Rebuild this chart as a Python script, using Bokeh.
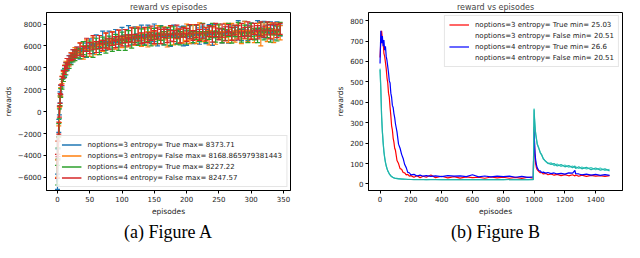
from bokeh.plotting import figure
from bokeh.layouts import row
from bokeh.models import (ColumnDataSource, Whisker, TeeHead, Legend, LegendItem,
                          Title, FixedTicker, CustomJSTickFormatter, Range1d)
from bokeh.embed import file_html
from bokeh.resources import INLINE

# ---------------- Figure A data ----------------
xa = [0, 1, 2, 3, 4, 5, 7, 9, 11, 13, 15, 18, 21, 24, 27, 30,
      35, 40, 45, 50, 55, 60, 65, 70, 75, 80, 85, 90, 95, 100,
      105, 110, 115, 120, 125, 130, 135, 140, 145, 150,
      155, 160, 165, 170, 175, 180, 185, 190, 195, 200,
      205, 210, 215, 220, 225, 230, 235, 240, 245, 250,
      255, 260, 265, 270, 275, 280, 285, 290, 295, 300,
      305, 310, 315, 320, 325, 330, 335, 340, 345]

ya1 = [-6400, -3900, -1300, 100, 1300, 2000, 2600, 3400, 3600, 4100, 4200, 4700, 4800, 5200, 5200, 5500,
       5300, 6000, 5600, 6200, 5700, 6400, 5900, 6600, 6000, 6700, 6200, 6900, 6300, 7000,
       6400, 7100, 6500, 7150, 6600, 7200, 6500, 7250, 6700, 7200,
       6600, 7350, 6800, 7250, 6700, 7400, 6800, 7300, 6900, 6700,
       7350, 6800, 7450, 6900, 7300, 6850, 7500, 6900, 7350, 7100,
       6900, 7550, 7000, 7400, 7100, 7500, 7000, 7600, 7200, 7500,
       7100, 7650, 7200, 7500, 7300, 7700, 7200, 7600, 7400]
ya2 = [-5200, -3300, -1800, -300, 900, 1800, 2900, 3200, 3900, 4200, 4400, 4500, 5000, 5000, 5400, 5300,
       5800, 5400, 6100, 5700, 6300, 5800, 6500, 6000, 6500, 6100, 6700, 6200, 6800, 6300,
       6900, 6400, 7000, 6500, 7100, 6550, 7050, 6600, 7150, 6700,
       7200, 6700, 7150, 6600, 7250, 6750, 7100, 6900, 6750, 7250,
       6800, 7300, 6700, 7350, 6850, 7100, 6750, 7350, 6900, 7300,
       6800, 7400, 6900, 7300, 6850, 7350, 6800, 7450, 6900, 7350,
       6950, 7450, 6800, 7500, 7050, 7400, 6900, 7600, 7200]
ya3 = [-5800, -3800, -1700, -200, 1000, 1700, 2500, 3100, 3500, 3800, 4100, 4400, 4700, 4900, 5100, 5300,
       5300, 5800, 5500, 6000, 5600, 6200, 5800, 6350, 6000, 6400, 6100, 6600, 6250, 6750,
       6300, 6900, 6400, 6950, 6500, 6950, 6550, 7050, 6600, 7100,
       6650, 7150, 6700, 7200, 6750, 7250, 6800, 6700, 7300, 6800,
       7300, 6800, 7250, 6850, 7350, 6800, 7200, 7400, 6850, 7400,
       6950, 7000, 7450, 6950, 7350, 7500, 6950, 7400, 7000, 7450,
       7050, 6950, 7550, 7050, 7450, 6950, 7500, 7100, 7550]
ya4 = [-5000, -3400, -1500, 0, 1200, 2000, 2800, 3400, 3800, 4100, 4400, 4700, 5000, 5200, 5300, 5500,
       5700, 5500, 6100, 5800, 6300, 5900, 6350, 6050, 6500, 6200, 6650, 6350, 6800, 6450,
       6900, 6500, 7000, 6600, 7050, 6700, 7000, 6750, 7150, 6800,
       7150, 6850, 7200, 6900, 7150, 6900, 7300, 6900, 7250, 7000,
       7300, 6950, 7350, 7000, 7350, 7050, 7350, 7050, 7450, 7050,
       7400, 7100, 7450, 7100, 7450, 7200, 7450, 7200, 7550, 7200,
       7550, 7250, 7550, 7300, 7600, 7300, 7600, 7350, 7550]

ea1 = [700, 500, 600, 400, 500, 400, 350, 400, 350, 400, 350, 400, 350, 450, 350, 400,
       500, 400, 650, 450, 400, 600, 500, 750, 400, 650, 500, 600, 400, 700,
       500, 750, 400, 600, 500, 700, 400, 650, 500, 800,
       600, 500, 700, 400, 750, 500, 600, 450, 900, 650,
       500, 600, 450, 750, 500, 650, 450, 850, 600, 500,
       650, 450, 750, 500, 600, 800, 500, 650, 700, 600,
       500, 650, 450, 750, 600, 500, 650, 600, 500]
ea2 = [800, 600, 500, 700, 450, 400, 350, 450, 350, 400, 450, 350, 400, 350, 450, 400,
       500, 600, 450, 650, 500, 600, 450, 500, 650, 450, 600, 500, 650, 450,
       600, 500, 700, 450, 650, 600, 500, 700, 450, 600,
       650, 500, 600, 700, 500, 650, 450, 600, 500, 750,
       600, 650, 500, 750, 450, 600, 650, 500, 750, 600,
       500, 650, 600, 750, 500, 650, 600, 800, 500, 700,
       650, 600, 800, 500, 650, 700, 600, 500, 650]
ea3 = [900, 500, 600, 450, 450, 400, 450, 350, 400, 450, 350, 450, 400, 350, 450, 400,
       450, 600, 500, 450, 650, 500, 600, 450, 650, 500, 600, 450, 650, 500,
       700, 500, 600, 650, 450, 600, 500, 650, 600, 500,
       450, 650, 600, 500, 700, 500, 650, 600, 450, 650,
       600, 500, 650, 450, 700, 500, 600, 650, 500, 600,
       650, 500, 600, 700, 500, 650, 600, 500, 700, 600,
       500, 650, 600, 500, 700, 600, 500, 650, 600]
ea4 = [1100, 700, 550, 500, 450, 450, 400, 350, 400, 350, 450, 400, 350, 450, 350, 400,
       550, 450, 600, 500, 650, 500, 600, 450, 700, 500, 600, 500, 650, 450,
       600, 500, 650, 450, 600, 500, 700, 450, 650, 600,
       500, 650, 450, 600, 700, 500, 600, 650, 450, 600,
       650, 450, 600, 500, 650, 600, 500, 700, 600, 500,
       600, 650, 500, 600, 450, 650, 600, 500, 650, 600,
       500, 600, 650, 500, 600, 650, 500, 600, 500]

labels_a = ["noptions=3 entropy= True max= 8373.71",
            "noptions=3 entropy= False max= 8168.865979381443",
            "noptions=4 entropy= True max= 8227.22",
            "noptions=4 entropy= False max= 8247.57"]
colors_a = ["#1f77b4", "#ff7f0e", "#2ca02c", "#d62728"]
yticks_a = [-6000, -4000, -2000, 0, 2000, 4000, 6000, 8000]
xticks_a = [0, 50, 100, 150, 200, 250, 300, 350]

# ---------------- Figure B data ----------------
xb = [0, 5, 10, 15, 20, 25, 30, 35, 40, 45, 50, 55, 60, 65, 70, 75, 80, 85, 90, 95,
      100, 110, 120, 130, 140, 150, 160, 170, 180, 190, 200, 220, 240, 260, 280, 300,
      330, 360, 400, 440, 480, 520, 560, 600, 640, 680, 720, 760, 800, 840, 880, 920,
      960, 995, 1000, 1003, 1006, 1010, 1015, 1020, 1030, 1040, 1050, 1060, 1075, 1090,
      1110, 1130, 1150, 1175, 1200, 1225, 1250, 1265, 1270, 1290, 1310, 1340, 1370,
      1400, 1430, 1460, 1490]

yb1 = [620, 700, 750, 710, 695, 640, 625, 595, 565, 520, 495, 445, 425, 375, 335, 285, 265, 225, 205, 175,
       165, 115, 100, 75, 72, 56, 54, 44, 47, 38, 41, 33, 40, 31, 38, 33,
       44, 31, 38, 30, 36, 29, 35, 31, 33, 28, 34, 30, 33, 28, 32, 27,
       33, 29, 280, 190, 140, 100, 80, 70, 62, 55, 57, 49, 52, 45,
       49, 43, 47, 41, 46, 40, 45, 39, 44, 38, 43, 37, 42,
       38, 41, 37, 41]
yb2 = [565, 470, 330, 260, 200, 160, 130, 105, 90, 75, 65, 57, 50, 44, 40, 37, 34, 32, 30, 29,
       28, 27, 26, 25, 25, 24, 24, 23, 23, 23, 22, 22, 22, 22, 22, 21,
       22, 22, 21, 22, 21, 22, 21, 22, 21, 22, 21, 22, 21, 22, 21, 22,
       21, 22, 370, 320, 280, 250, 220, 200, 175, 155, 140, 125, 110, 100,
       104, 90, 98, 86, 93, 82, 88, 80, 84, 76, 83, 74, 80,
       70, 78, 66, 72]
yb3 = [590, 750, 690, 725, 675, 705, 655, 675, 625, 605, 575, 545, 505, 495, 445, 425, 385, 375, 345, 325,
       295, 255, 195, 175, 145, 125, 95, 80, 57, 55, 45, 47, 39, 43, 38, 41,
       37, 40, 36, 41, 38, 40, 36, 45, 35, 39, 35, 38, 36, 38, 33, 37,
       32, 35, 270, 200, 150, 120, 95, 80, 66, 64, 56, 58, 53, 56,
       51, 54, 49, 52, 48, 54, 53, 66, 50, 49, 45, 48, 43,
       47, 42, 46, 42]
yb4 = [560, 460, 335, 255, 205, 158, 128, 107, 88, 76, 64, 58, 49, 45, 39, 36, 34, 31, 30, 28,
       27, 26, 25, 25, 24, 24, 23, 23, 22, 22, 22, 21, 22, 21, 22, 21,
       21, 22, 21, 21, 22, 21, 21, 22, 21, 21, 22, 21, 21, 22, 21, 21,
       22, 21, 365, 315, 285, 245, 225, 195, 178, 152, 142, 122, 112, 102,
       96, 100, 88, 95, 84, 90, 80, 88, 76, 84, 74, 82, 70,
       78, 68, 74, 64]

labels_b = ["noptions=3 entropy= True min= 25.03",
            "noptions=3 entropy= False min= 20.51",
            "noptions=4 entropy= True min= 26.6",
            "noptions=4 entropy= False min= 20.51"]
colors_b = ["#ff0000", "#40d0c0", "#0000ff", "#20b2aa"]
yticks_b = [0, 100, 200, 300, 400, 500, 600, 700, 800]
xticks_b = [0, 200, 400, 600, 800, 1000, 1200, 1400]

FONT = "DejaVu Sans"
H = 242


def style(p, caption):
    p.outline_line_color = "black"
    p.outline_line_width = 1
    p.xgrid.visible = False
    p.ygrid.visible = False
    for ax in (p.xaxis[0], p.yaxis[0]):
        ax.axis_line_color = "black"
        ax.major_tick_out = 3
        ax.major_tick_in = 0
        ax.minor_tick_out = 0
        ax.minor_tick_in = 0
        ax.major_label_text_font = FONT
        ax.major_label_text_font_size = "7px"
        ax.major_label_text_color = "#222222"
        ax.major_label_standoff = 2
        ax.axis_label_text_font = FONT
        ax.axis_label_text_font_size = "7.5px"
        ax.axis_label_text_font_style = "normal"
        ax.axis_label_text_color = "#222222"
        ax.axis_label_standoff = 2
    p.xaxis.axis_label = "episodes"
    p.yaxis.axis_label = "rewards"
    p.title.text = "reward vs episodes"
    p.title.text_font = FONT
    p.title.text_font_size = "8px"
    p.title.text_font_style = "normal"
    p.title.align = "center"
    p.title.standoff = 1
    p.add_layout(Title(text=caption, align="center", text_font="Liberation Serif",
                       text_font_size="18px", text_font_style="normal",
                       text_color="black", standoff=2), "below")


minus_fmt = "return tick < 0 ? '\u2212' + Math.abs(tick) : '' + tick;"

# ---------------- Figure A ----------------
pA = figure(width=300, height=H, output_backend="svg", toolbar_location=None,
            x_range=Range1d(-17, 361), y_range=Range1d(-7200, 9050),
            min_border_left=30, min_border_right=10, min_border_top=4, min_border_bottom=2)
style(pA, "(a) Figure A")
pA.xaxis.ticker = FixedTicker(ticks=xticks_a)
pA.yaxis.ticker = FixedTicker(ticks=yticks_a)
pA.yaxis.formatter = CustomJSTickFormatter(code=minus_fmt)

items_a = []
for ys, es, c, lab in zip([ya1, ya2, ya3, ya4], [ea1, ea2, ea3, ea4], colors_a, labels_a):
    src = ColumnDataSource(dict(x=xa, y=ys,
                                up=[v + e for v, e in zip(ys, es)],
                                lo=[v - e for v, e in zip(ys, es)]))
    r = pA.line("x", "y", source=src, line_color=c, line_width=1.5)
    w = Whisker(base="x", upper="up", lower="lo", source=src, line_color=c, line_width=1.2,
                upper_head=TeeHead(size=5, line_color=c, line_width=1.2),
                lower_head=TeeHead(size=5, line_color=c, line_width=1.2), level="glyph")
    pA.add_layout(w)
    items_a.append(LegendItem(label=lab, renderers=[r]))

legA = Legend(items=items_a, location="bottom_right", label_text_font=FONT,
              label_text_font_size="7px", label_text_color="#222222",
              glyph_width=20, glyph_height=9, label_height=9, spacing=2, padding=4,
              margin=3, border_line_color="#cccccc", background_fill_alpha=0.85,
              label_standoff=6)
pA.add_layout(legA)

# ---------------- Figure B ----------------
pB = figure(width=324, height=H, output_backend="svg", toolbar_location=None,
            x_range=Range1d(-75, 1574), y_range=Range1d(-32, 840),
            min_border_left=68, min_border_right=2, min_border_top=4, min_border_bottom=2)
style(pB, "(b) Figure B")
pB.xaxis.ticker = FixedTicker(ticks=xticks_b)
pB.yaxis.ticker = FixedTicker(ticks=yticks_b)

rB = []
for ys, c in zip([yb1, yb3, yb2, yb4], [colors_b[0], colors_b[2], colors_b[1], colors_b[3]]):
    rB.append(pB.line(xb, ys, line_color=c, line_width=1.2))
blank1 = pB.line(x=[], y=[], line_alpha=0)
blank2 = pB.line(x=[], y=[], line_alpha=0)
items_b = [LegendItem(label=labels_b[0], renderers=[rB[0]]),
           LegendItem(label=labels_b[1], renderers=[blank1]),
           LegendItem(label=labels_b[2], renderers=[rB[1]]),
           LegendItem(label=labels_b[3], renderers=[blank2])]
legB = Legend(items=items_b, location="top_right", label_text_font=FONT,
              label_text_font_size="7px", label_text_color="#222222",
              glyph_width=20, glyph_height=9, label_height=9, spacing=2, padding=4,
              margin=3, border_line_color="#cccccc", background_fill_alpha=0.85,
              label_standoff=6)
pB.add_layout(legB)

layout = row(pA, pB)
open("out.html", "w").write(file_html(layout, INLINE))
